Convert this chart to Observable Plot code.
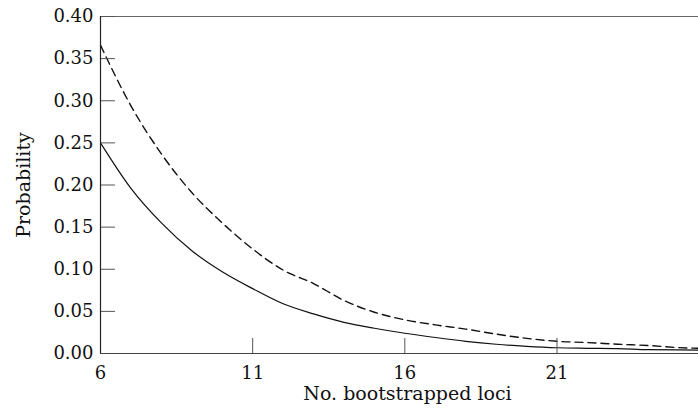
<!DOCTYPE html>
<html>
<head>
<meta charset="utf-8">
<script src="https://cdn.jsdelivr.net/npm/d3@7"></script>
<script src="https://cdn.jsdelivr.net/npm/@observablehq/plot@0.6"></script>
<style>
  html, body { margin: 0; padding: 0; background: #fff; }
  #chart svg { display: block; }
</style>
</head>
<body>
<div id="chart"></div>
<script>
// Number of bootstrapped loci
const loci = [6, 7, 8, 9, 10, 11, 12, 13, 14, 15, 16, 17, 18, 19, 20, 21, 22, 23, 24, 25, 26];
// Solid curve
const solidProb = [0.250, 0.196, 0.155, 0.122, 0.097, 0.077, 0.059, 0.047, 0.037, 0.030, 0.024, 0.019, 0.0145, 0.011, 0.0085, 0.0068, 0.0062, 0.0058, 0.0045, 0.0042, 0.0040];
// Dashed curve
const dashedProb = [0.366, 0.294, 0.237, 0.191, 0.155, 0.124, 0.099, 0.083, 0.063, 0.049, 0.040, 0.034, 0.029, 0.023, 0.018, 0.0145, 0.013, 0.011, 0.0095, 0.007, 0.006];
// Axis ticks
const xTicks = [6, 11, 16, 21];
const yTicks = [0.00, 0.05, 0.10, 0.15, 0.20, 0.25, 0.30, 0.35, 0.40];
const xLabel = "No. bootstrapped loci";
const yLabel = "Probability";

const solid = loci.map((x, i) => ({x, y: solidProb[i]}));
const dashed = loci.map((x, i) => ({x, y: dashedProb[i]}));

const W = 698, H = 415;
const mL = 100, mR = 0, mT = 16, mB = 62;
const frameW = W - mL - mR, frameH = H - mT - mB;
const font = "'DejaVu Serif', serif";

const chart = Plot.plot({
  width: W,
  height: H,
  marginLeft: mL,
  marginRight: mR,
  marginTop: mT,
  marginBottom: mB,
  style: {fontFamily: font, fontSize: "18px", color: "#111", background: "#fff"},
  x: {domain: [6, 25.65], axis: null},
  y: {domain: [0, 0.40], axis: null},
  marks: [
    // top frame line
    Plot.ruleY([0.40], {stroke: "#666", strokeWidth: 1}),
    // lines
    Plot.line(solid, {x: "x", y: "y", stroke: "#111", strokeWidth: 1.2, curve: "monotone-x", clip: true}),
    Plot.line(dashed, {x: "x", y: "y", stroke: "#111", strokeWidth: 1.4, strokeDasharray: "8,5", curve: "monotone-x", clip: true}),
    // inward ticks
    Plot.tickY(yTicks, {y: d => d, stroke: "#555", strokeWidth: 1, insetRight: frameW - 15}),
    Plot.tickX(xTicks, {x: d => d, stroke: "#555", strokeWidth: 1, insetTop: frameH - 15}),
    // axis lines
    Plot.ruleX([6], {y1: 0, y2: 0.40, stroke: "#222", strokeWidth: 1.2}),
    Plot.ruleY([0], {stroke: "#444", strokeWidth: 1.2}),
    // tick labels
    Plot.axisY(yTicks, {tickSize: 0, tickPadding: 7, tickFormat: d => d.toFixed(2), fontSize: 18, fill: "#111", label: null}),
    Plot.axisX(xTicks, {tickSize: 0, tickPadding: 13, tickFormat: d => String(d), fontSize: 18, fill: "#111", label: null}),
    // axis titles
    Plot.text([xLabel], {text: d => d, frameAnchor: "bottom", textAnchor: "middle", lineAnchor: "bottom", dy: 46, dx: 8, fontSize: 19, fill: "#111"}),
    Plot.text([yLabel], {text: d => d, frameAnchor: "left", textAnchor: "middle", lineAnchor: "bottom", rotate: -90, dx: -71, fontSize: 19, fill: "#111"})
  ]
});

document.getElementById("chart").appendChild(chart);
</script>
</body>
</html>
